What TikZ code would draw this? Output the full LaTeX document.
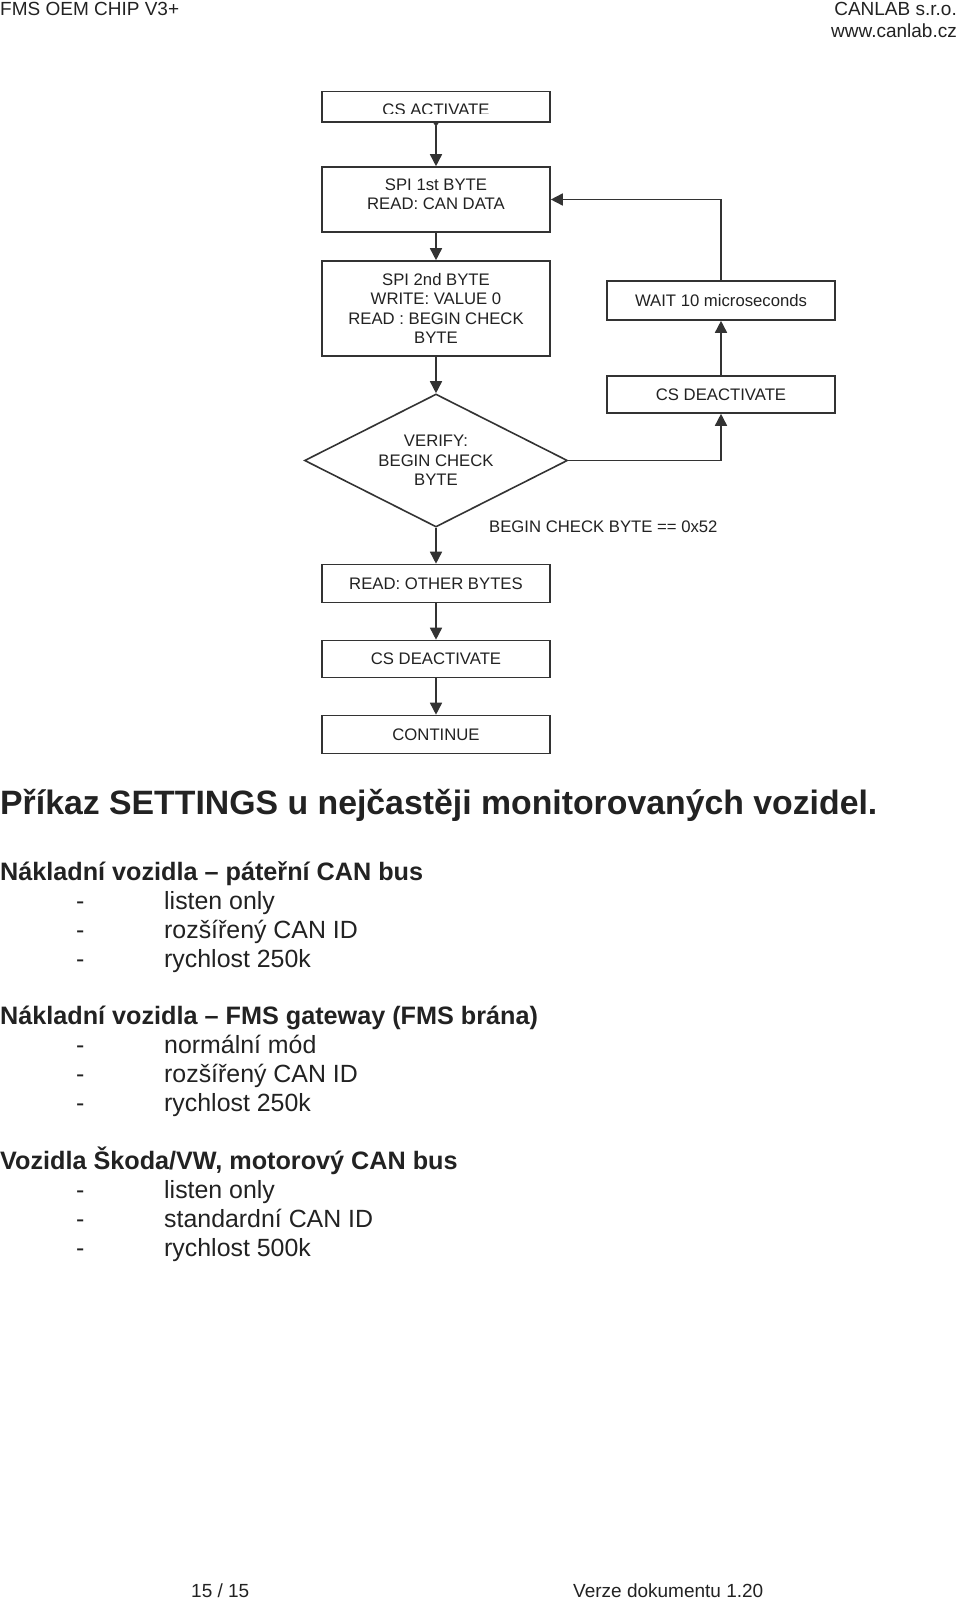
\documentclass[tikz,border=0pt]{standalone}
\usepackage{fontspec}
\setmainfont{Liberation Sans}
\usetikzlibrary{arrows.meta,shapes.geometric}
\definecolor{linec}{HTML}{333333}
\definecolor{txtc}{HTML}{222222}
\newcommand\fchart{\fontsize{16.7}{19.4}\selectfont}
\newcommand\fhead{\fontsize{19}{22}\selectfont}
\newcommand\ftitle{\fontsize{33.8}{40}\selectfont\bfseries}
\newcommand\fsec{\fontsize{25.2}{30}\selectfont\bfseries}
\newcommand\flist{\fontsize{24.9}{30}\selectfont}
\begin{document}
\begin{tikzpicture}[x=1pt,y=-1pt,
  box/.style={draw=linec, line width=1.6pt, minimum width=228pt, inner sep=0pt, align=center, font=\fchart, text=txtc},
  ctext/.style={inner sep=0pt, align=center, font=\fchart, text=txtc},
  arr/.style={draw=linec, line width=1.6pt, -{Triangle[length=12pt,width=12pt]}},
  plain/.style={inner sep=0pt, text=txtc, anchor=base west},
  plainr/.style={inner sep=0pt, text=txtc, anchor=base east}]
\useasboundingbox (0,0) rectangle (960,1600);
\fill[white] (0,0) rectangle (960,1600);

% header
\node[plain, font=\fhead] (hl) at (0,16) {FMS OEM CHIP V3+};
\node[plainr, font=\fhead] (hr1) at (957,16) {CANLAB s.r.o.};
\node[plainr, font=\fhead] (hr2) at (957,38) {www.canlab.cz};

% CS ACTIVATE with clipped text
\begin{scope}
\clip (322,91) rectangle (550,114);
\node[ctext, anchor=base] (cs1t) at (436,115.3) {CS ACTIVATE};
\end{scope}
\node[box, minimum height=30.5pt] (cs1) at (436,106.75) {};

\node[box, minimum height=65pt] (spi1) at (436,199.5) {};
\node[ctext] (spi1t) at (436,194) {SPI 1st BYTE\\READ: CAN DATA};

\node[box, minimum height=95pt] (spi2) at (436,308.5) {SPI 2nd BYTE\\WRITE: VALUE 0\\READ : BEGIN CHECK\\BYTE};

\node[box, minimum height=39pt] (wait) at (721,300.5) {WAIT 10 microseconds};
\node[box, minimum height=37pt] (csdr) at (721,394.5) {CS DEACTIVATE};

\node[draw=linec, line width=1.6pt, shape=diamond, shape aspect=2, inner sep=0pt, minimum width=263pt, minimum height=133pt] (dia) at (436,460.5) {};
\node[ctext] (diat) at (436,460.5) {VERIFY:\\BEGIN CHECK\\BYTE};

\node[plain, font=\fchart] (cond) at (489,532) {BEGIN CHECK BYTE == 0x52};

\node[box, minimum height=38pt] (read) at (436,583.5) {READ: OTHER BYTES};
\node[box, minimum height=37pt] (csd) at (436,659) {CS DEACTIVATE};
\node[box, minimum height=38pt] (cont) at (436,734.5) {CONTINUE};

% connectors
\draw[arr, {Triangle[reversed,length=4pt,width=5pt]}-{Triangle[length=12pt,width=12pt]}] (cs1) -- (spi1);
\draw[arr] (spi1) -- (spi2);
\draw[arr] (spi2) -- (dia);
\draw[arr] (dia) -- (read);
\draw[arr] (read) -- (csd);
\draw[arr] (csd) -- (cont);
\draw[arr] (dia.east) -| (csdr.south);
\draw[arr] (csdr) -- (wait);
\draw[arr] (wait.north) |- (spi1.east);

% text part
\node[plain, font=\ftitle] (title) at (0,814) {Příkaz SETTINGS u nejčastěji monitorovaných vozidel.};

\node[plain, font=\fsec] (s1) at (0,880) {Nákladní vozidla – páteřní CAN bus};
\node[plain, font=\flist] (s1d1) at (76,909) {-};
\node[plain, font=\flist] (s1a) at (164,909) {listen only};
\node[plain, font=\flist] (s1d2) at (76,938) {-};
\node[plain, font=\flist] (s1b) at (164,938) {rozšířený CAN ID};
\node[plain, font=\flist] (s1d3) at (76,967) {-};
\node[plain, font=\flist] (s1c) at (164,967) {rychlost 250k};

\node[plain, font=\fsec] (s2) at (0,1024) {Nákladní vozidla – FMS gateway (FMS brána)};
\node[plain, font=\flist] (s2d1) at (76,1053) {-};
\node[plain, font=\flist] (s2a) at (164,1053) {normální mód};
\node[plain, font=\flist] (s2d2) at (76,1082) {-};
\node[plain, font=\flist] (s2b) at (164,1082) {rozšířený CAN ID};
\node[plain, font=\flist] (s2d3) at (76,1111) {-};
\node[plain, font=\flist] (s2c) at (164,1111) {rychlost 250k};

\node[plain, font=\fsec] (s3) at (0,1169) {Vozidla Škoda/VW, motorový CAN bus};
\node[plain, font=\flist] (s3d1) at (76,1198) {-};
\node[plain, font=\flist] (s3a) at (164,1198) {listen only};
\node[plain, font=\flist] (s3d2) at (76,1227) {-};
\node[plain, font=\flist] (s3b) at (164,1227) {standardní CAN ID};
\node[plain, font=\flist] (s3d3) at (76,1256) {-};
\node[plain, font=\flist] (s3c) at (164,1256) {rychlost 500k};

% footer
\node[plain, font=\fhead] (pg) at (191,1597) {15 / 15};
\node[plain, font=\fhead] (ver) at (573,1597) {Verze dokumentu 1.20};
\end{tikzpicture}
\end{document}
